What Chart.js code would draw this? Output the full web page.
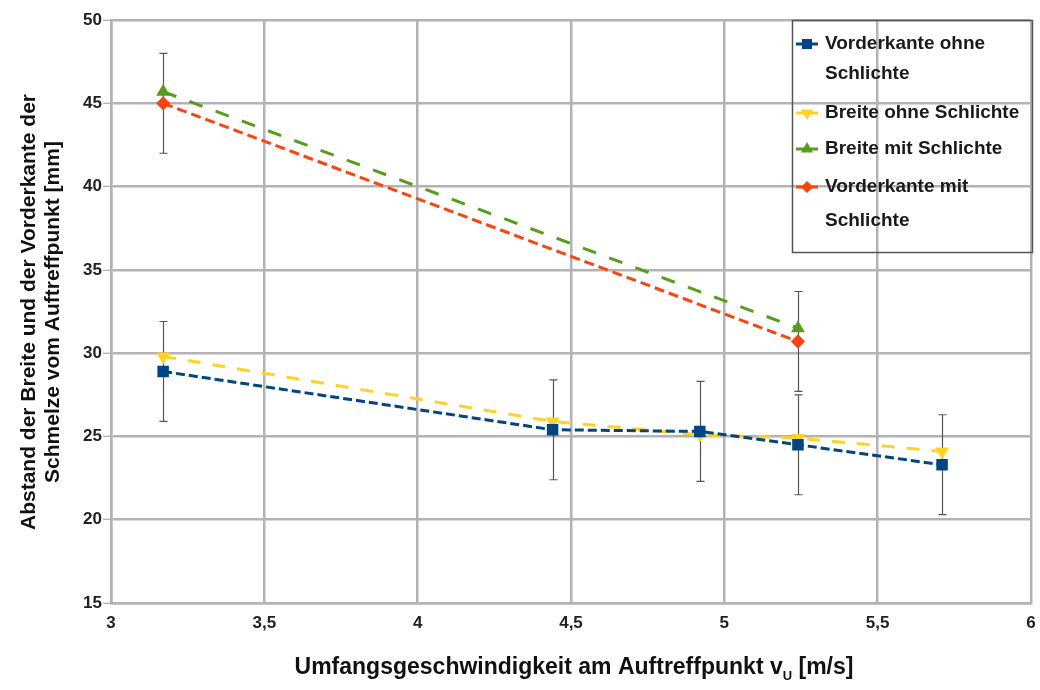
<!DOCTYPE html>
<html>
<head>
<meta charset="utf-8">
<script src="https://cdn.jsdelivr.net/npm/chart.js@4.4.1/dist/chart.umd.min.js"></script>
<style>
  body { margin: 0; background: #fff; }
  #wrap { width: 1040px; height: 690px; position: relative; }
</style>
</head>
<body>
<div id="wrap"><canvas id="chart" width="1040" height="690"></canvas></div>
<script>
// values
var xOhne = [3.17, 4.44, 4.92, 5.24, 5.71];
var vorderkanteOhne = [28.9, 25.4, 25.3, 24.5, 23.3];
var breiteOhne = [29.8, 25.9, 25.1, 24.9, 24.1];
var xMit = [3.17, 5.24];
var breiteMit = [45.7, 31.5];
var vorderkanteMit = [45.0, 30.7];
var fehlerVorderkanteOhne = [3, 3, 3, 3, 3];
var fehlerVorderkanteMit = [3, 3];

var xTitle = ['Umfangsgeschwindigkeit am Auftreffpunkt v', 'U', ' [m/s]'];
var yTitle = ['Abstand der Breite und der Vorderkante der', 'Schmelze vom Auftreffpunkt [mm]'];
var legendLabels = [
    ['Vorderkante ohne', 'Schlichte'],
    ['Breite ohne Schlichte'],
    ['Breite mit Schlichte'],
    ['Vorderkante mit', 'Schlichte']
];

function pts(xs, ys) {
    return xs.map(function (x, i) { return { x: x, y: ys[i] }; });
}

var FONT = '"Liberation Sans", Arial, sans-serif';

var errorBars = {
    id: 'errorBars',
    beforeDatasetsDraw: function (chart) {
        var ctx = chart.ctx, sx = chart.scales.x, sy = chart.scales.y;
        ctx.save();
        ctx.strokeStyle = '#555';
        ctx.lineWidth = 1.2;
        chart.data.datasets.forEach(function (ds) {
            if (!ds.fehler) return;
            ds.data.forEach(function (p, i) {
                var e = ds.fehler[i];
                var px = Math.round(sx.getPixelForValue(p.x)) + 0.5;
                var top = sy.getPixelForValue(p.y + e);
                var bot = sy.getPixelForValue(p.y - e);
                ctx.beginPath();
                ctx.moveTo(px, top); ctx.lineTo(px, bot);
                ctx.moveTo(px - 4, top); ctx.lineTo(px + 4, top);
                ctx.moveTo(px - 4, bot); ctx.lineTo(px + 4, bot);
                ctx.stroke();
            });
        });
        ctx.restore();
    }
};

var decorations = {
    id: 'decorations',
    afterDraw: function (chart) {
        var ctx = chart.ctx;
        ctx.save();
        // legend box (transparent, grid shows through)
        ctx.strokeStyle = '#555';
        ctx.lineWidth = 1.5;
        ctx.strokeRect(792.5, 20.5, 240, 232);
        var rows = [[44, 74], [113], [149], [187, 221]];
        ctx.font = 'bold 19px ' + FONT;
        ctx.textBaseline = 'middle';
        ctx.textAlign = 'left';
        chart.data.datasets.forEach(function (ds, i) {
            var y = rows[i][0];
            ctx.strokeStyle = ds.borderColor;
            ctx.lineWidth = 3;
            ctx.setLineDash([]);
            ctx.beginPath();
            ctx.moveTo(796, y); ctx.lineTo(818, y);
            ctx.stroke();
            Chart.helpers.drawPoint(ctx, {
                pointStyle: ds.pointStyle, radius: ds.pointRadius - 1,
                rotation: ds.pointRotation || 0, borderWidth: 1
            }, 807, y);
            ctx.fillStyle = ds.borderColor;
            ctx.fill();
            ctx.fillStyle = '#1a1a1a';
            legendLabels[i].forEach(function (t, j) {
                ctx.fillText(t, 825, rows[i][j]);
            });
        });

        // x axis title with subscript
        ctx.fillStyle = '#111';
        var mainFont = 'bold 23px ' + FONT;
        var subFont = 'bold 13px ' + FONT;
        ctx.font = mainFont;
        var w0 = ctx.measureText(xTitle[0]).width;
        var w2 = ctx.measureText(xTitle[2]).width;
        ctx.font = subFont;
        var w1 = ctx.measureText(xTitle[1]).width;
        var x0 = 574 - (w0 + w1 + w2) / 2;
        ctx.font = mainFont;
        ctx.fillText(xTitle[0], x0, 668);
        ctx.font = subFont;
        ctx.fillText(xTitle[1], x0 + w0, 676);
        ctx.font = mainFont;
        ctx.fillText(xTitle[2], x0 + w0 + w1, 668);

        // y axis title, two lines rotated
        ctx.translate(0, 312);
        ctx.rotate(-Math.PI / 2);
        ctx.textAlign = 'center';
        ctx.font = 'bold 21px ' + FONT;
        ctx.fillText(yTitle[0], 0, 29);
        ctx.fillText(yTitle[1], 0, 53);
        ctx.restore();
    }
};

var ctx = document.getElementById('chart').getContext('2d');
var chart = new Chart(ctx, {
    type: 'scatter',
    data: {
        datasets: [
            {
                label: 'Vorderkante ohne Schlichte',
                data: pts(xOhne, vorderkanteOhne),
                fehler: fehlerVorderkanteOhne,
                borderColor: '#004586',
                backgroundColor: '#004586',
                borderWidth: 3,
                borderDash: [9, 4],
                pointStyle: 'rect',
                pointRadius: 6,
                showLine: true,
                order: 0
            },
            {
                label: 'Breite ohne Schlichte',
                data: pts(xOhne, breiteOhne),
                borderColor: '#ffd320',
                backgroundColor: '#ffd320',
                borderWidth: 3,
                borderDash: [13, 12],
                pointStyle: 'triangle',
                pointRotation: 180,
                pointRadius: 5,
                showLine: true,
                order: 1
            },
            {
                label: 'Breite mit Schlichte',
                data: pts(xMit, breiteMit),
                borderColor: '#579d1c',
                backgroundColor: '#579d1c',
                borderWidth: 3,
                borderDash: [14, 14],
                pointStyle: 'triangle',
                pointRadius: 5,
                showLine: true,
                order: 3
            },
            {
                label: 'Vorderkante mit Schlichte',
                data: pts(xMit, vorderkanteMit),
                fehler: fehlerVorderkanteMit,
                borderColor: '#ff420e',
                backgroundColor: '#ff420e',
                borderWidth: 3,
                borderDash: [10, 5],
                pointStyle: 'rectRot',
                pointRadius: 5,
                showLine: true,
                order: 2
            }
        ]
    },
    options: {
        responsive: false,
        animation: false,
        layout: { padding: { top: 20, right: 7, left: 0, bottom: 0 } },
        plugins: { legend: { display: false }, tooltip: { enabled: false } },
        scales: {
            x: {
                type: 'linear',
                min: 3, max: 6,
                afterFit: function (s) {
                    s.height = 87;
                    s.paddingLeft = 0;
                    s.paddingRight = 0;
                },
                border: { color: '#b3b3b3', width: 2.5 },
                grid: { color: '#b3b3b3', lineWidth: 2.5, drawTicks: false },
                ticks: {
                    stepSize: 0.5,
                    padding: 10,
                    color: '#222',
                    font: { family: FONT, size: 17, weight: 'bold' },
                    callback: function (v) { return String(v).replace('.', ','); }
                }
            },
            y: {
                min: 15, max: 50,
                afterFit: function (s) { s.width = 111; },
                border: { color: '#b3b3b3', width: 2.5 },
                grid: { color: '#b3b3b3', lineWidth: 2.5, tickLength: 8, tickColor: '#999', tickWidth: 1 },
                ticks: {
                    stepSize: 5,
                    padding: 1,
                    color: '#222',
                    font: { family: FONT, size: 17, weight: 'bold' }
                }
            }
        }
    },
    plugins: [errorBars, decorations]
});
</script>
</body>
</html>
